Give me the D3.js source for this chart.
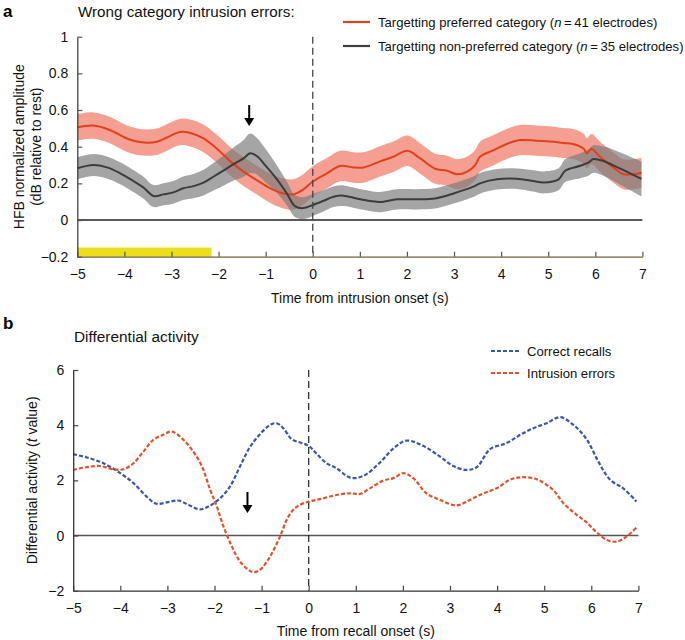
<!DOCTYPE html>
<html>
<head>
<meta charset="utf-8">
<script src="https://cdn.jsdelivr.net/npm/d3@7"></script>
<style>
body{margin:0;background:#fff;}
svg{font-family:"Liberation Sans",Arial,Helvetica,sans-serif;}
</style>
</head>
<body>
<svg id="chart" width="685" height="640"></svg>
<script>
// ---------- Panel a data ----------
const prefT    = [-5,-4.66,-4.3,-3.95,-3.67,-3.31,-3.1,-2.82,-2.6,-2.32,-2.04,-1.75,-1.47,-1.19,-0.9,-0.62,-0.41,-0.2,0,0.3,0.58,0.86,1.08,1.43,1.71,2.01,2.28,2.6,2.84,3.06,3.27,3.45,3.55,3.83,4.12,4.4,4.75,5.11,5.32,5.53,5.75,5.82,5.92,6.1,6.38,6.6,6.81,6.98];
const prefMean = [0.505,0.515,0.49,0.445,0.425,0.427,0.45,0.48,0.475,0.445,0.39,0.32,0.264,0.218,0.173,0.145,0.14,0.167,0.21,0.255,0.295,0.287,0.287,0.32,0.345,0.378,0.336,0.28,0.27,0.25,0.263,0.30,0.345,0.38,0.415,0.436,0.433,0.427,0.42,0.415,0.39,0.364,0.387,0.345,0.287,0.25,0.25,0.258];
const prefSem  = [0.072,0.072,0.072,0.072,0.072,0.072,0.072,0.072,0.074,0.075,0.076,0.077,0.078,0.078,0.08,0.082,0.083,0.083,0.083,0.083,0.083,0.083,0.083,0.083,0.083,0.083,0.083,0.082,0.082,0.082,0.082,0.082,0.082,0.082,0.082,0.082,0.082,0.082,0.082,0.082,0.082,0.082,0.082,0.082,0.082,0.082,0.082,0.082];

const nonprefT    = [-5,-4.66,-4.37,-4.09,-3.81,-3.6,-3.38,-3.17,-2.96,-2.75,-2.53,-2.32,-2.11,-1.9,-1.68,-1.47,-1.33,-1.19,-0.98,-0.76,-0.55,-0.38,-0.2,0,0.23,0.44,0.65,0.93,1.22,1.43,1.79,2.21,2.6,2.99,3.41,3.55,3.91,4.33,4.68,4.9,5.22,5.36,5.68,5.85,5.96,6.17,6.52,6.98];
const nonprefMean = [0.282,0.30,0.287,0.255,0.213,0.178,0.131,0.14,0.151,0.173,0.185,0.204,0.236,0.269,0.305,0.336,0.364,0.349,0.29,0.222,0.145,0.076,0.065,0.082,0.105,0.127,0.133,0.118,0.104,0.098,0.113,0.113,0.118,0.145,0.182,0.2,0.222,0.225,0.213,0.205,0.222,0.269,0.296,0.313,0.333,0.322,0.282,0.224];
const nonprefSem  = [0.06,0.06,0.06,0.06,0.06,0.06,0.06,0.06,0.062,0.064,0.066,0.07,0.075,0.082,0.09,0.1,0.108,0.1,0.09,0.075,0.065,0.06,0.06,0.06,0.058,0.056,0.056,0.055,0.055,0.055,0.055,0.055,0.055,0.055,0.056,0.056,0.056,0.056,0.058,0.06,0.06,0.062,0.068,0.072,0.075,0.08,0.088,0.095];

const highlightRange = [-5, -2.15];   // yellow bar in panel a
const arrowTimeA = -1.35;

const xTicksA = [-5,-4,-3,-2,-1,0,1,2,3,4,5,6,7];
const yTicksA = [-0.2,0,0.2,0.4,0.6,0.8,1];

// ---------- Panel b data ----------
const correctT = [-5,-4.71,-4.36,-4.0,-3.72,-3.44,-3.23,-3.01,-2.77,-2.55,-2.31,-2.13,-1.88,-1.67,-1.46,-1.25,-1.03,-0.82,-0.68,-0.54,-0.36,-0.18,0,0.17,0.38,0.59,0.88,1.16,1.51,1.8,2.08,2.43,2.79,3.07,3.35,3.57,3.85,4.2,4.49,4.77,5.05,5.34,5.62,5.9,6.15,6.4,6.68,6.96];
const correctV = [2.95,2.83,2.62,2.26,1.9,1.41,1.15,1.2,1.27,1.11,0.95,1.05,1.35,1.78,2.5,3.2,3.68,4.01,4.07,3.89,3.49,3.37,3.25,2.96,2.62,2.44,2.1,2.16,2.64,3.16,3.44,3.25,2.86,2.52,2.38,2.48,3.13,3.35,3.65,3.89,4.07,4.29,4.01,3.49,2.68,2.02,1.71,1.23];

const intrusionT = [-5,-4.71,-4.43,-4.15,-3.93,-3.72,-3.51,-3.3,-3.09,-2.91,-2.66,-2.45,-2.27,-2.09,-1.95,-1.81,-1.63,-1.46,-1.28,-1.17,-1.03,-0.82,-0.61,-0.43,-0.25,0,0.24,0.59,0.88,1.09,1.3,1.58,1.8,2.01,2.22,2.5,2.79,3.14,3.42,3.71,3.99,4.27,4.49,4.84,5.19,5.41,5.69,5.9,6.11,6.33,6.54,6.75,6.96];
const intrusionV = [2.38,2.48,2.52,2.4,2.4,2.62,3.04,3.47,3.65,3.77,3.47,3.04,2.52,1.65,1.05,0.33,-0.4,-0.94,-1.24,-1.33,-1.24,-0.76,-0.04,0.69,1.05,1.23,1.32,1.47,1.53,1.51,1.71,1.99,2.08,2.26,2.08,1.53,1.29,1.09,1.29,1.53,1.71,2.02,2.11,2.04,1.65,1.17,0.75,0.48,0.12,-0.16,-0.22,-0.04,0.29];

const arrowTimeB = -1.3;
const xTicksB = [-5,-4,-3,-2,-1,0,1,2,3,4,5,6,7];
const yTicksB = [-2,0,2,4,6];

// ---------- Drawing ----------
const svg = d3.select("#chart");
const FONT = 14;

function zip(t, v, s){ return t.map((d,i)=>({t:d, v:v[i], s: s ? s[i] : 0})); }

// ===== Panel a =====
const xA = d3.scaleLinear().domain([-5,7]).range([77.3,642.4]);
const yA = d3.scaleLinear().domain([-0.2,1]).range([256.7,36.7]);
const gA = svg.append("g");

// yellow bar
gA.append("rect")
  .attr("x", xA(highlightRange[0])).attr("width", xA(highlightRange[1]) - xA(highlightRange[0]))
  .attr("y", yA(-0.15)).attr("height", yA(-0.2) - yA(-0.15))
  .attr("fill", "#ebdf1c");

const prefData = zip(prefT, prefMean, prefSem);
const nonData = zip(nonprefT, nonprefMean, nonprefSem);
const curve = d3.curveCatmullRom.alpha(0.5);
const area = d3.area().x(d=>xA(d.t)).y0(d=>yA(d.v-d.s)).y1(d=>yA(d.v+d.s)).curve(curve);
const lineA = d3.line().x(d=>xA(d.t)).y(d=>yA(d.v)).curve(curve);

gA.append("path").datum(prefData).attr("d", area).attr("fill","#ee6e5a").attr("fill-opacity",0.66);
gA.append("path").datum(nonData).attr("d", area).attr("fill","#7a7a7a").attr("fill-opacity",0.68);

// zero line
gA.append("line").attr("x1", xA(-5)).attr("x2", xA(7)).attr("y1", yA(0)).attr("y2", yA(0))
  .attr("stroke","#222").attr("stroke-width",1.5);

gA.append("path").datum(prefData).attr("d", lineA).attr("fill","none").attr("stroke","#e2401c").attr("stroke-width",2);
gA.append("path").datum(nonData).attr("d", lineA).attr("fill","none").attr("stroke","#3c3c3c").attr("stroke-width",2);

// dashed vertical at 0
gA.append("line").attr("x1", xA(0)).attr("x2", xA(0)).attr("y1", yA(1)).attr("y2", yA(-0.2))
  .attr("stroke","#444").attr("stroke-width",1.3).attr("stroke-dasharray","7,4");

// axes
const axAx = d3.axisBottom(xA).tickValues(xTicksA).tickSizeInner(-5).tickSizeOuter(0).tickPadding(12)
  .tickFormat(d=> d<0 ? "\u2212"+Math.abs(d) : d);
const axAy = d3.axisLeft(yA).tickValues(yTicksA).tickSizeInner(-5).tickSizeOuter(0).tickPadding(9)
  .tickFormat(d=> d<0 ? "\u2212"+d3.format(".1f")(Math.abs(d)) : (d===0||d===1 ? String(d) : d3.format(".1f")(d)));
const gAx = gA.append("g").attr("transform",`translate(0,${yA(-0.2)})`).call(axAx);
const gAy = gA.append("g").attr("transform",`translate(${xA(-5)},0)`).call(axAy);
gAx.select(".domain").attr("stroke","#6e6338").attr("stroke-width",1.3);
gAy.select(".domain").attr("stroke","#444").attr("stroke-width",1.3);
[gAx,gAy].forEach(g=>{
  g.selectAll(".tick line").attr("stroke","#555").attr("stroke-width",1.2);
  g.selectAll("text").attr("font-size",FONT).attr("fill","#111").attr("font-family","Liberation Sans, Arial, sans-serif");
});

// arrow a
function arrow(g, x, y1, y2){
  g.append("line").attr("x1",x).attr("x2",x).attr("y1",y1).attr("y2",y2-6).attr("stroke","#000").attr("stroke-width",2);
  g.append("path").attr("d",`M${x-5},${y2-8} L${x+5},${y2-8} L${x},${y2} Z`).attr("fill","#000");
}
arrow(gA, xA(arrowTimeA), 105, 126);

// titles & labels
svg.append("text").attr("x",3).attr("y",17).text("a").attr("font-size",17).attr("font-weight","bold");
svg.append("text").attr("x",78).attr("y",17).text("Wrong category intrusion errors:").attr("font-size",15.2).attr("fill","#111");
svg.append("text").attr("x",(xA(-5)+xA(7))/2).attr("y",303).attr("text-anchor","middle")
  .text("Time from intrusion onset (s)").attr("font-size",14).attr("fill","#111");
const ylabA = svg.append("text").attr("transform",`translate(24,${yA(0.4)}) rotate(-90)`).attr("text-anchor","middle")
  .attr("font-size",14).attr("fill","#111");
ylabA.append("tspan").attr("x",0).attr("dy",0).text("HFB normalized amplitude");
ylabA.append("tspan").attr("x",0).attr("dy",17).text("(dB relative to rest)");

// legend a
const legA = [
  {color:"#e2401c", pre:"Targetting preferred category (", n:"41"},
  {color:"#3c3c3c", pre:"Targetting non-preferred category (", n:"35"}
];
legA.forEach((d,i)=>{
  const y = 22 + i*24;
  svg.append("line").attr("x1",343).attr("x2",370).attr("y1",y).attr("y2",y).attr("stroke",d.color).attr("stroke-width",2.2);
  const t = svg.append("text").attr("x",378).attr("y",y+4.5).attr("font-size",13.1).attr("fill","#111");
  t.append("tspan").text(d.pre);
  t.append("tspan").attr("font-style","italic").text("n");
  t.append("tspan").text("\u2009=\u2009" + d.n + " electrodes)");
});

// ===== Panel b =====
const xB = d3.scaleLinear().domain([-5,7]).range([73.2,638.4]);
const yB = d3.scaleLinear().domain([-2,6]).range([590.7,370]);
const gB = svg.append("g");

gB.append("line").attr("x1", xB(-5)).attr("x2", xB(7)).attr("y1", yB(0)).attr("y2", yB(0))
  .attr("stroke","#555").attr("stroke-width",1.5);
gB.append("line").attr("x1", xB(0)).attr("x2", xB(0)).attr("y1", yB(6)).attr("y2", yB(-2))
  .attr("stroke","#222").attr("stroke-width",1.2).attr("stroke-dasharray","7,4");

const lineB = d3.line().x(d=>xB(d.t)).y(d=>yB(d.v)).curve(curve);
gB.append("path").datum(zip(correctT, correctV)).attr("d", lineB).attr("fill","none")
  .attr("stroke","#3a56aa").attr("stroke-width",2.2).attr("stroke-dasharray","4,2");
gB.append("path").datum(zip(intrusionT, intrusionV)).attr("d", lineB).attr("fill","none")
  .attr("stroke","#e4502a").attr("stroke-width",2.2).attr("stroke-dasharray","4,2");

const axBx = d3.axisBottom(xB).tickValues(xTicksB).tickSizeInner(-5).tickSizeOuter(0).tickPadding(12)
  .tickFormat(d=> d<0 ? "\u2212"+Math.abs(d) : d);
const axBy = d3.axisLeft(yB).tickValues(yTicksB).tickSizeInner(-5).tickSizeOuter(0).tickPadding(9)
  .tickFormat(d=> d<0 ? "\u2212"+Math.abs(d) : d);
const gBx = gB.append("g").attr("transform",`translate(0,${yB(-2)})`).call(axBx);
const gBy = gB.append("g").attr("transform",`translate(${xB(-5)},0)`).call(axBy);
[gBx,gBy].forEach(g=>{
  g.select(".domain").attr("stroke","#333").attr("stroke-width",1.3);
  g.selectAll(".tick line").attr("stroke","#444").attr("stroke-width",1.2);
  g.selectAll("text").attr("font-size",FONT).attr("fill","#111").attr("font-family","Liberation Sans, Arial, sans-serif");
});

arrow(gB, xB(arrowTimeB), 492, 513);

svg.append("text").attr("x",3).attr("y",329).text("b").attr("font-size",17).attr("font-weight","bold");
svg.append("text").attr("x",74).attr("y",342).text("Differential activity").attr("font-size",15.4).attr("fill","#111");
svg.append("text").attr("x",(xB(-5)+xB(7))/2).attr("y",636).attr("text-anchor","middle")
  .text("Time from recall onset (s)").attr("font-size",14).attr("fill","#111");
const ylabB = svg.append("text").attr("transform",`translate(37,${yB(2)}) rotate(-90)`).attr("text-anchor","middle")
  .attr("font-size",14).attr("fill","#111");
ylabB.append("tspan").text("Differential activity (");
ylabB.append("tspan").attr("font-style","italic").text("t");
ylabB.append("tspan").text(" value)");

const legB = [
  {color:"#3a56aa", label:"Correct recalls"},
  {color:"#e4502a", label:"Intrusion errors"}
];
legB.forEach((d,i)=>{
  const y = 351 + i*22;
  svg.append("line").attr("x1",491).attr("x2",521).attr("y1",y).attr("y2",y).attr("stroke",d.color)
    .attr("stroke-width",2.2).attr("stroke-dasharray","4,2");
  svg.append("text").attr("x",527).attr("y",y+4.5).attr("font-size",13.1).attr("fill","#111").text(d.label);
});
</script>
</body>
</html>
